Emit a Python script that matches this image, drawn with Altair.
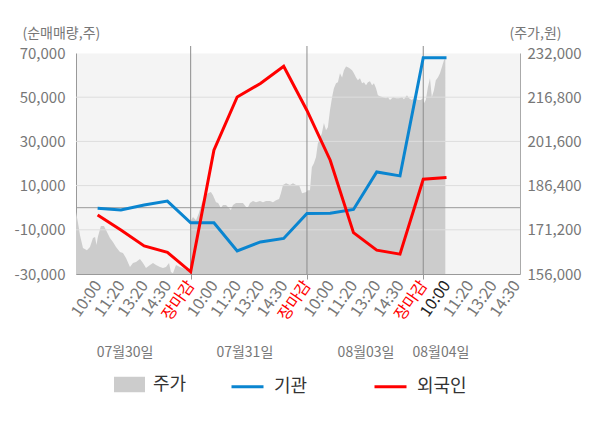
import json
import altair as alt
import pandas as pd

FONT = "Noto Sans CJK KR"

# ---------------- data ----------------
time_labels = ["10:00", "11:20", "13:20", "14:30", "장마감",
               "10:00", "11:20", "13:20", "14:30", "장마감",
               "10:00", "11:20", "13:20", "14:30", "장마감",
               "10:00", "11:20", "13:20", "14:30"]

flow_slots = list(range(1, 17))
inst_net = [-200, -1000, 1200, 3000, -6800, -6800, -19600, -15500, -13900,
            -2600, -2500, -800, 16200, 14400, 67900, 67900]
foreign_net = [-3300, -10100, -17300, -20200, -29000, 26000, 50100, 56200, 64000,
               44000, 21500, -11300, -19200, -21000, 12900, 13700]

price_slot = [
    0.07, 0.15, 0.24, 0.37, 0.54, 0.67, 0.80, 0.89, 0.95, 1.01, 1.14, 1.27, 1.36,
    1.53, 1.66, 1.79, 1.96, 2.09, 2.22, 2.39, 2.52, 2.65, 2.82, 2.95, 3.08, 3.25,
    3.38, 3.51, 3.68, 3.81, 3.94, 4.07, 4.15, 4.24, 4.37, 4.54, 4.67, 4.80, 4.97,
    5.02, 5.10, 5.23, 5.35, 5.48, 5.61, 5.74, 5.87, 5.96, 6.09, 6.18, 6.30, 6.39,
    6.52, 6.60, 6.73, 6.82, 6.95, 7.12, 7.25, 7.38, 7.47, 7.55, 7.68, 7.81, 7.98,
    8.11, 8.24, 8.41, 8.54, 8.67, 8.80, 8.88, 8.97, 9.10, 9.27, 9.40, 9.53, 9.66,
    9.79, 9.97,
    10.03, 10.13, 10.21, 10.30, 10.39, 10.47, 10.56, 10.64, 10.73, 10.82, 10.90,
    10.99, 11.08, 11.16, 11.25, 11.33, 11.42, 11.51, 11.59, 11.68, 11.76, 11.85,
    11.94, 12.02, 12.11, 12.19, 12.28, 12.37, 12.45, 12.54, 12.62, 12.71, 12.80,
    12.88, 12.97, 13.05, 13.14, 13.27, 13.40, 13.48, 13.57, 13.70, 13.83, 13.96,
    14.09, 14.17, 14.30, 14.39, 14.51, 14.64, 14.77, 14.90, 14.98,
    15.03, 15.11, 15.20, 15.29, 15.37, 15.46, 15.54, 15.63, 15.72, 15.80, 15.89,
    15.95]
price_value = [
    177300, 173900, 169400, 164900, 164200, 165300, 168400, 168700, 166000, 168700,
    172500, 172500, 171100, 168400, 167000, 165300, 163600, 163200, 161500, 158400,
    159800, 160100, 161200, 159800, 158100, 159100, 159800, 159100, 158400, 158100,
    158400, 159800, 156700, 156300, 159100, 158400, 158100, 157400, 157400,
    174500, 175600, 174500, 176900, 180400, 182400, 183800, 184200, 183100, 180700,
    180400, 178700, 179700, 179700, 179000, 178000, 179700, 180400, 180400, 180400,
    179000, 179000, 180400, 181100, 180700, 181100, 180700, 181100, 181100, 180700,
    181400, 181800, 183800, 186600, 187200, 186600, 187200, 186600, 186600, 183800,
    184200,
    184800, 184800, 192700, 194100, 196200, 201000, 202700, 204400, 207900, 205400,
    206500, 212300, 216800, 219900, 221600, 221900, 225000, 223600, 226100, 227400,
    227100, 226700, 226100, 225000, 223600, 222600, 223300, 221600, 221900, 220900,
    221900, 222300, 220900, 221600, 219900, 217500, 217100, 216800, 216400, 216800,
    215800, 216800, 216400, 216400, 216800, 216100, 217500, 216400, 215800, 216800,
    215800, 215800, 216400,
    214700, 215800, 220200, 223300, 216800, 219200, 222600, 223600, 225000, 227100,
    229500, 230200]

dates = ["07월30일", "07월31일", "08월03일", "08월04일"]
date_slot = [2.18, 7.33, 12.54, 15.76]

left_ticks = [-30000, -10000, 10000, 30000, 50000, 70000]
right_ticks = [156000, 171200, 186400, 201600, 216800, 232000]
price_floor = 156000
grid_vals = [-10000, 10000, 30000, 50000]
zero_val = [0]
close_slots = [5, 10, 15]

price_name = ["주가"]
price_color = ["#cccccc"]
flow_names = ["기관", "외국인"]
flow_colors = ["#0a85d0", "#ff0000"]

# ---------------- frames ----------------
price_df = pd.DataFrame({"slot": price_slot, "price": price_value, "series": price_name[0]})
flow_df = pd.concat([
    pd.DataFrame({"slot": flow_slots, "value": inst_net, "series": flow_names[0]}),
    pd.DataFrame({"slot": flow_slots, "value": foreign_net, "series": flow_names[1]}),
], ignore_index=True)

x_scale = alt.Scale(domain=[0.07, 19.16], nice=False, zero=False)
left_scale = alt.Scale(domain=[-30000, 70000], nice=False, zero=False)
right_scale = alt.Scale(domain=[156000, 232000], nice=False, zero=False)

label_arr = json.dumps(time_labels, ensure_ascii=False)

x_axis = alt.Axis(
    values=list(range(1, 20)),
    labelExpr=f"{label_arr}[datum.value - 1]",
    labelAngle=-55, labelAlign="right", labelBaseline="middle",
    labelFont=FONT, labelFontSize=16, labelPadding=3,
    labelColor={"expr": "datum.value % 5 === 0 ? '#ff0000' : (datum.value === 16 ? '#222222' : '#777777')"},
    tickColor={"expr": "datum.value % 5 === 0 ? '#999999' : 'transparent'"},
    tickSize=5, ticks=True, grid=False, domainColor="#999999",
    labelOverlap=False, labelFlush=False, title=None,
)


def xenc(field):
    return alt.X(field, scale=x_scale, axis=x_axis)


price_legend = alt.Legend(
    title=None, orient="none", direction="horizontal",
    legendX=38, legendY=316, padding=0,
    labelFont=FONT, labelFontSize=18, labelColor="#333333",
    symbolType="M-1,-0.5H1V0.5H-1Z", symbolSize=961,
    symbolFillColor="#cccccc", symbolStrokeColor="#cccccc", symbolStrokeWidth=0,
    symbolOpacity=1, labelOffset=8,
)

flow_legend = alt.Legend(
    title=None, orient="none", direction="horizontal",
    legendX=154, legendY=316, padding=0,
    labelFont=FONT, labelFontSize=18, labelColor="#333333",
    symbolType="stroke", symbolSize=1024, symbolStrokeWidth=3,
    symbolOpacity=1, labelOffset=9, columnPadding=60,
)

area = alt.Chart(price_df).mark_area(opacity=1, interpolate="linear").encode(
    x=xenc("slot:Q"),
    y=alt.Y("price:Q", scale=right_scale, axis=alt.Axis(
        orient="right", values=right_ticks,
        labelExpr="format(datum.value, ',d')", ticks=False, grid=False,
        labelFont=FONT, labelFontSize=15, labelColor="#777777", labelPadding=7,
        domainColor="#aaaaaa",
        title="(주가,원)", titleAngle=0, titleAlign="left", titleBaseline="middle",
        titleX=-11, titleY=-20, titleFont=FONT, titleFontSize=14,
        titleFontWeight="normal", titleColor="#777777")),
    y2=alt.datum(price_floor),
    fill=alt.Fill("series:N", scale=alt.Scale(domain=price_name, range=price_color),
                  legend=price_legend),
)

grid = alt.Chart(pd.DataFrame({"v": grid_vals})).mark_rule(
    color="#dddddd", strokeWidth=1).encode(
    y=alt.Y("v:Q", scale=left_scale, axis=None))

zero = alt.Chart(pd.DataFrame({"v": zero_val})).mark_rule(
    color="#999999", strokeWidth=1).encode(
    y=alt.Y("v:Q", scale=left_scale, axis=None))

vsep = alt.Chart(pd.DataFrame({"s": close_slots})).mark_rule(
    color="#8c8c8c", strokeWidth=1).encode(
    x=xenc("s:Q"),
    y=alt.value(-7), y2=alt.value(221))

lines = alt.Chart(flow_df).mark_line(strokeWidth=3).encode(
    x=xenc("slot:Q"),
    y=alt.Y("value:Q", scale=left_scale, axis=alt.Axis(
        orient="left", values=left_ticks, ticks=False, grid=False,
        labelExpr="(datum.value < 0 ? '-' : '') + format(abs(datum.value), ',')",
        labelFont=FONT, labelFontSize=15, labelColor="#777777", labelPadding=11,
        domainColor="#999999",
        title="(순매매량,주)", titleAngle=0, titleAlign="left", titleBaseline="middle",
        titleX=-54, titleY=-20, titleFont=FONT, titleFontSize=14,
        titleFontWeight="normal", titleColor="#777777")),
    stroke=alt.Stroke("series:N", scale=alt.Scale(domain=flow_names, range=flow_colors),
                      legend=flow_legend),
    order=alt.Order("slot:Q"),
)

date_text = alt.Chart(pd.DataFrame({"d": dates, "s": date_slot})).mark_text(
    font=FONT, fontSize=14, color="#777777", baseline="middle", align="center").encode(
    x=xenc("s:Q"),
    y=alt.value(300),
    text="d:N")

chart = alt.layer(area, grid, zero, vsep, lines, date_text).resolve_scale(
    y="independent"
).properties(
    width=444, height=221,
    autosize=alt.AutoSizeParams(type="none"),
    padding={"left": 68, "top": 45, "right": 72, "bottom": 146},
    view=alt.ViewBackground(fill="#f4f4f4", stroke="transparent"),
).configure_view(
    fill="#f4f4f4", stroke="transparent"
).configure(background="white")

chart.save("out.html", embed_options={"renderer": "svg", "actions": False})
